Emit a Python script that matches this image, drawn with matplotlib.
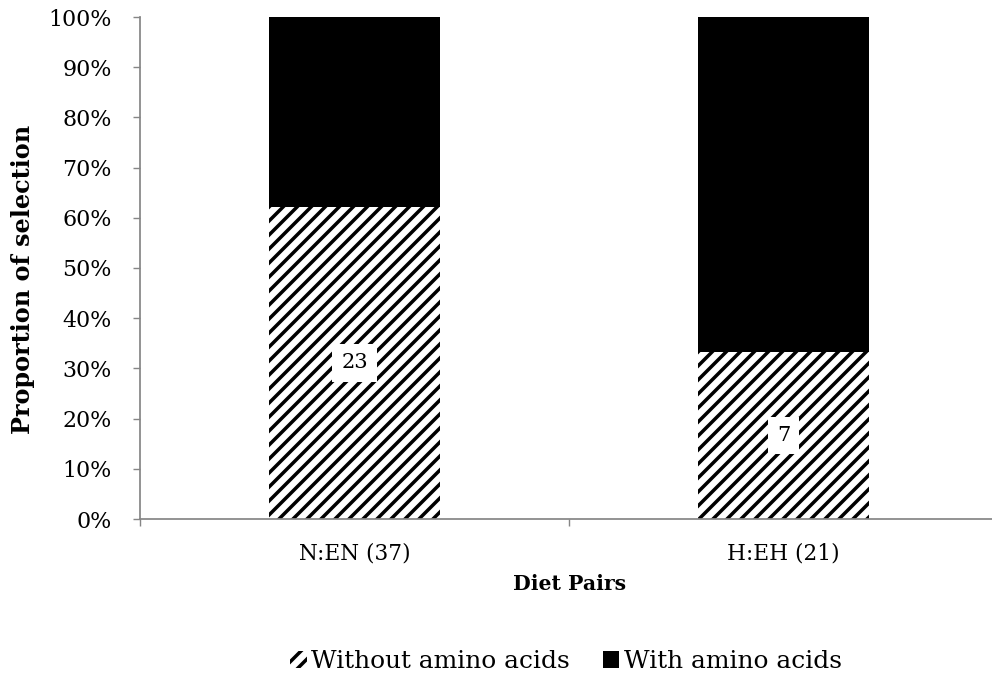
import matplotlib.pyplot as plt
import numpy as np
from matplotlib.patches import Patch

# Diet pair choice counts
pairs = ['N:EN (37)', 'H:EH (21)']
totals = [37, 21]
without_aa = [23, 7]

DPI = 84
plt.rcParams['font.family'] = ['DejaVu Serif']
plt.rcParams['hatch.linewidth'] = 3.0

frac_without = np.array(without_aa) / np.array(totals)
frac_with = 1 - frac_without

fig = plt.figure(figsize=(992 / DPI, 688 / DPI), dpi=DPI)
ax = fig.add_axes([140/992, 169/688, 858/992, 502/688])

x = np.arange(len(pairs))
width = 0.4
ax.bar(x, frac_without, width, color='white', edgecolor='black',
       hatch='//', linewidth=0, label='Without amino acids')
ax.bar(x, frac_with, width, bottom=frac_without, color='black',
       linewidth=0, label='With amino acids')

for xi, f, n in zip(x, frac_without, without_aa):
    ax.text(xi, f / 2, str(n), ha='center', va='center', fontsize=18,
            bbox=dict(facecolor='white', edgecolor='none', pad=8))

ticks = np.arange(0, 1.01, 0.1)
ax.set_xlim(-0.5, 1.5)
ax.set_ylim(0, 1)
ax.set_yticks(ticks)
ax.set_yticklabels([f'{int(round(v * 100))}%' for v in ticks], fontsize=19)
ax.set_xticks([-0.5, 0.5, 1.5])
ax.set_xticklabels(['', '', ''])
ax.set_xticks(x, minor=True)
ax.set_xticklabels(pairs, minor=True, fontsize=18.5)
ax.tick_params(axis='x', which='minor', length=0, pad=20)
ax.tick_params(axis='x', which='major', length=6, width=1.2, color='#868686')
ax.tick_params(axis='y', length=6, width=1.2, color='#868686', pad=18)

for s in ['top', 'right']:
    ax.spines[s].set_visible(False)
for s in ['left', 'bottom']:
    ax.spines[s].set_color('#868686')
    ax.spines[s].set_linewidth(1.5)

ax.set_ylabel('Proportion of selection', fontsize=20.5, fontweight='bold')
ax.set_xlabel('Diet Pairs', fontsize=17.5, fontweight='bold')
ax.yaxis.set_label_coords(-0.122, 0.478)
ax.xaxis.set_label_coords(0.501, -0.11)

handles = [Patch(facecolor='white', edgecolor='black', hatch='//', linewidth=0),
           Patch(facecolor='black')]
fig.legend(handles, ['Without amino acids', 'With amino acids'], loc='center',
           bbox_to_anchor=(566/992, 1 - 662/688), ncol=2, frameon=False,
           fontsize=21.3, handlelength=0.65, handleheight=0.65, handletextpad=0.2,
           columnspacing=1.3)

fig.savefig('out.png', dpi=DPI)
